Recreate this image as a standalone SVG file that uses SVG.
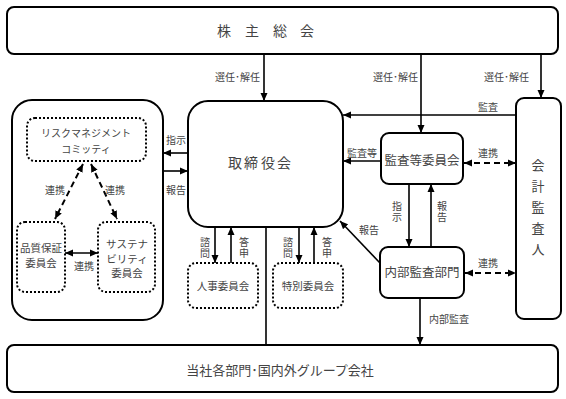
<svg xmlns="http://www.w3.org/2000/svg" width="566" height="399" viewBox="0 0 566 399">
<defs>
<marker id="ah" viewBox="0 0 8 8" refX="8" refY="4" markerWidth="8" markerHeight="8" markerUnits="userSpaceOnUse" orient="auto-start-reverse">
<path d="M0,0.5 L8,4 L0,7.5 z" fill="#000"/>
</marker>
</defs>
<style>
.box{fill:#fff;stroke:#000;stroke-width:2}
.dot{fill:#fff;stroke:#000;stroke-width:2;stroke-dasharray:2 2}
.ln{fill:none;stroke:#000;stroke-width:1.6}
.dash{fill:none;stroke:#000;stroke-width:2;stroke-dasharray:6 4}
text{font-family:"Noto Sans CJK JP","Noto Sans",sans-serif;fill:#444}
.s{font-size:10px}
.m{font-size:10.5px}
.c{text-anchor:middle}
.v{writing-mode:vertical-rl;text-anchor:middle;font-size:10px;letter-spacing:1px}
</style>
<rect width="566" height="399" fill="#fff"/>

<g id="shareholders">
<rect class="box" x="7" y="7" width="551" height="47" rx="7"/>
<text x="224 252 280 307" y="36" text-anchor="middle" font-size="14">株主総会</text>
</g>

<g id="riskgroup">
<rect class="box" x="12" y="100" width="151" height="220" rx="20"/>
</g>
<g id="risk">
<rect class="dot" x="27" y="118" width="119" height="43" rx="8"/>
<text class="s c" x="86" y="137">リスクマネジメント<tspan x="86" dy="16">コミッティ</tspan></text>
</g>
<g id="quality">
<rect class="dot" x="17" y="222" width="48" height="70" rx="8"/>
<text class="m c" x="41" y="252">品質保証<tspan x="41" dy="15">委員会</tspan></text>
</g>
<g id="sustain">
<rect class="dot" x="98" y="222" width="57" height="70" rx="8"/>
<text class="m c" x="127" y="248">サステナ<tspan x="127" dy="14.5">ビリティ</tspan><tspan x="127" dy="14.5">委員会</tspan></text>
</g>

<g id="board">
<rect class="box" x="188" y="101" width="155" height="126" rx="20"/>
<text x="235 251 268 284" y="168" text-anchor="middle" font-size="14">取締役会</text>
</g>
<g id="personnel">
<rect class="dot" x="188" y="263" width="70" height="45" rx="8"/>
<text class="m c" x="223" y="290">人事委員会</text>
</g>
<g id="special">
<rect class="dot" x="273" y="263" width="70" height="45" rx="8"/>
<text class="m c" x="308" y="290">特別委員会</text>
</g>

<g id="auditcommittee">
<rect class="box" x="381" y="133" width="82" height="51" rx="8"/>
<text x="422" y="165" text-anchor="middle" font-size="12.5">監査等委員会</text>
</g>
<g id="internalaudit">
<rect class="box" x="380" y="247" width="84" height="51" rx="8"/>
<text x="422" y="277" text-anchor="middle" font-size="12.5">内部監査部門</text>
</g>
<g id="accountant">
<rect class="box" x="516" y="98" width="45" height="221" rx="8"/>
<text x="538" y="211" style="writing-mode:vertical-rl;text-anchor:middle;letter-spacing:8px" font-size="13">会計監査人</text>
</g>

<g id="group">
<rect class="box" x="7" y="345" width="551" height="47" rx="7"/>
<text x="280" y="375" text-anchor="middle" font-size="13">当社各部門･国内外グループ会社</text>
</g>

<g id="connectors">
<line class="ln" x1="264" y1="54" x2="264" y2="101" marker-end="url(#ah)"/>
<line class="ln" x1="421" y1="54" x2="421" y2="133" marker-end="url(#ah)"/>
<line class="ln" x1="541" y1="54" x2="541" y2="98" marker-end="url(#ah)"/>
<text class="s" x="260" y="81" text-anchor="end">選任･解任</text>
<text class="s" x="418" y="81" text-anchor="end">選任･解任</text>
<text class="s" x="529" y="81" text-anchor="end">選任･解任</text>

<line class="dash" x1="83" y1="164" x2="55" y2="219" marker-start="url(#ah)" marker-end="url(#ah)"/>
<line class="dash" x1="91" y1="164" x2="117" y2="219" marker-start="url(#ah)" marker-end="url(#ah)"/>
<line class="ln" x1="65" y1="253" x2="98" y2="253" stroke-width="2" marker-start="url(#ah)" marker-end="url(#ah)"/>
<text class="s c" x="55" y="194">連携</text>
<text class="s c" x="115" y="194">連携</text>
<text class="s c" x="84" y="270">連携</text>

<line class="ln" x1="188" y1="153" x2="163" y2="153" marker-end="url(#ah)"/>
<line class="ln" x1="163" y1="171" x2="188" y2="171" marker-end="url(#ah)"/>
<text class="s c" x="176" y="144">指示</text>
<text class="s c" x="176" y="194">報告</text>

<line class="ln" x1="266" y1="227" x2="266" y2="345"/>
<line class="ln" x1="215" y1="227" x2="215" y2="263" marker-end="url(#ah)"/>
<line class="ln" x1="231" y1="263" x2="231" y2="227" marker-end="url(#ah)"/>
<line class="ln" x1="299" y1="227" x2="299" y2="263" marker-end="url(#ah)"/>
<line class="ln" x1="314" y1="263" x2="314" y2="227" marker-end="url(#ah)"/>
<text class="v" x="205" y="248">諮問</text>
<text class="v" x="244" y="248">答申</text>
<text class="v" x="288" y="248">諮問</text>
<text class="v" x="327" y="248">答申</text>

<line class="ln" x1="516" y1="115" x2="343" y2="115" marker-end="url(#ah)"/>
<text class="s c" x="488" y="111">監査</text>
<line class="ln" x1="381" y1="161" x2="343" y2="161" marker-end="url(#ah)"/>
<text class="s c" x="362" y="157">監査等</text>
<line class="dash" x1="464" y1="163" x2="516" y2="163" marker-start="url(#ah)" marker-end="url(#ah)"/>
<text class="s c" x="488" y="157">連携</text>

<line class="ln" x1="409" y1="184" x2="409" y2="247" marker-end="url(#ah)"/>
<line class="ln" x1="431" y1="247" x2="431" y2="184" marker-end="url(#ah)"/>
<text class="v" x="397" y="212">指示</text>
<text class="v" x="442" y="212">報告</text>

<line class="ln" x1="380" y1="263" x2="340" y2="221" marker-end="url(#ah)"/>
<text class="s c" x="369" y="234">報告</text>
<line class="dash" x1="465" y1="273" x2="516" y2="273" marker-start="url(#ah)" marker-end="url(#ah)"/>
<text class="s c" x="488" y="267">連携</text>

<line class="ln" x1="420" y1="298" x2="420" y2="345" marker-end="url(#ah)"/>
<text class="s c" x="449" y="323">内部監査</text>
</g>
</svg>
